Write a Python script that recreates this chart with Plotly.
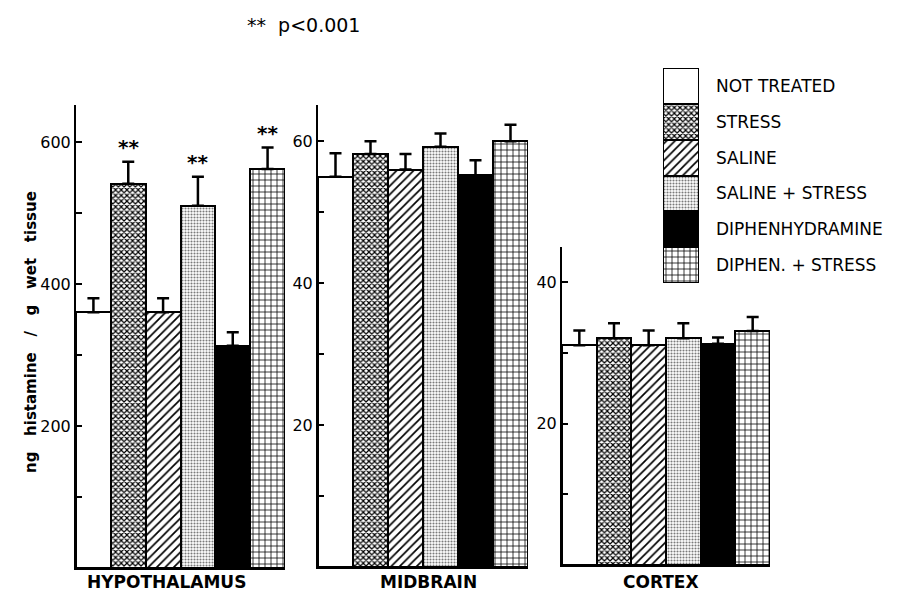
import plotly.graph_objects as go

# ---------------- data ----------------
treatments = ["NOT TREATED", "STRESS", "SALINE", "SALINE + STRESS",
              "DIPHENHYDRAMINE", "DIPHEN. + STRESS"]
regions = ["HYPOTHALAMUS", "MIDBRAIN", "CORTEX"]

hypothalamus_mean = [360, 541, 360, 510, 313, 562]
hypothalamus_err = [20, 31, 20, 41, 19, 30]
midbrain_mean = [55.0, 58.2, 56.0, 59.2, 55.2, 60.0]
midbrain_err = [3.3, 1.8, 2.2, 1.9, 2.1, 2.3]
cortex_mean = [31.1, 32.1, 31.1, 32.1, 31.3, 33.1]
cortex_err = [2.1, 2.1, 2.1, 2.1, 0.9, 2.0]

hypothalamus_signif = ["", "**", "", "**", "", "**"]

hypothalamus_ticks = [200, 400, 600]
midbrain_ticks = [20, 40, 60]
cortex_ticks = [20, 40]

y_title = "ng histamine / g wet tissue"
note = "** p<0.001"

# ---------------- styles ----------------
FONT = "DejaVu Sans"
pat_shape = ["", "x", "/", ".", "", "+"]
# with fillmode "replace" the pattern foreground comes from marker.color
pat_fg = ["white", "black", "black", "#7a7a7a", "black", "black"]
pat_bg = ["white", "#9a9a9a", "white", "#d4d4d4", "black", "white"]
pat_size = [8, 4, 6, 3, 8, 6]
pat_sol = [0.3, 0.5, 0.28, 0.4, 0.3, 0.24]


def marker():
    return dict(
        color=pat_fg,
        line=dict(color="black", width=2),
        pattern=dict(shape=pat_shape, fgcolor=pat_fg, bgcolor=pat_bg,
                     size=pat_size, solidity=pat_sol, fillmode="replace"),
    )


fig = go.Figure()

panels = [
    ("x", "y", hypothalamus_mean, hypothalamus_err),
    ("x2", "y2", midbrain_mean, midbrain_err),
    ("x3", "y3", cortex_mean, cortex_err),
]
for xa, ya, mean, err in panels:
    fig.add_trace(go.Bar(
        x=treatments, y=mean, xaxis=xa, yaxis=ya, marker=marker(),
        error_y=dict(type="data", array=err, arrayminus=[0] * len(err),
                     symmetric=False, color="black", thickness=2.5, width=6),
        showlegend=False, hoverinfo="x+y",
    ))

# legend drawn as a column of swatches
legend_swatch = [1] * len(treatments)
fig.add_trace(go.Bar(
    y=treatments, x=legend_swatch, orientation="h", xaxis="x4", yaxis="y4",
    marker=marker(), showlegend=False, hoverinfo="y",
))

W, H = 909, 593


def px_x(p):
    return p / W


def px_y(p):
    return 1 - p / H


axis_common = dict(showline=True, linecolor="black", linewidth=2,
                   showgrid=False, zeroline=False)

xcommon = dict(axis_common, type="category", categoryorder="array",
               categoryarray=treatments, range=[-0.5, 5.5],
               showticklabels=False, ticks="")


def ycommon(rng, ticks, minor_dtick):
    return dict(axis_common, range=rng, tickmode="array", tickvals=ticks,
                ticktext=[str(t) for t in ticks], ticks="inside", ticklen=6,
                tickwidth=2, tickcolor="black",
                tickfont=dict(family=FONT, size=16, color="black"),
                minor=dict(ticks="inside", ticklen=6, tickwidth=2,
                           tickcolor="black", dtick=minor_dtick,
                           tick0=minor_dtick / 2, showgrid=False))


fig.update_layout(
    width=W, height=H,
    margin=dict(l=0, r=0, t=0, b=0),
    paper_bgcolor="white", plot_bgcolor="rgba(0,0,0,0)",
    bargap=0, barmode="group",
    font=dict(family=FONT, color="black"),
    xaxis=dict(xcommon, domain=[px_x(76), px_x(285)], anchor="y"),
    yaxis=dict(ycommon([0, 652], hypothalamus_ticks, 200),
               domain=[px_y(568), px_y(105)], anchor="x"),
    xaxis2=dict(xcommon, domain=[px_x(318), px_x(528)], anchor="y2"),
    yaxis2=dict(ycommon([0, 65.1], midbrain_ticks, 20),
                domain=[px_y(567), px_y(105)], anchor="x2"),
    xaxis3=dict(xcommon, domain=[px_x(562), px_x(770)], anchor="y3"),
    yaxis3=dict(ycommon([0, 45], cortex_ticks, 20),
                domain=[px_y(565), px_y(247)], anchor="x3"),
    xaxis4=dict(domain=[px_x(663), px_x(699)], anchor="y4", range=[0, 1],
                visible=False, fixedrange=True),
    yaxis4=dict(domain=[px_y(283), px_y(68)], anchor="x4", type="category",
                categoryorder="array", categoryarray=treatments[::-1],
                side="right", showline=False, showgrid=False, zeroline=False,
                ticks="", ticklabelstandoff=16,
                tickfont=dict(family=FONT, size=17, color="black")),
)

annotations = []
# significance stars
for t, m, e, s in zip(treatments, hypothalamus_mean, hypothalamus_err, hypothalamus_signif):
    if s:
        annotations.append(dict(
            x=t, y=m + e, xref="x", yref="y", text=s, showarrow=False,
            yanchor="bottom", yshift=1,
            font=dict(family=FONT, size=20, color="black", weight="bold")))

# region labels
for name, cx in zip(regions, [166, 428, 661]):
    annotations.append(dict(
        x=px_x(cx), y=px_y(582), xref="paper", yref="paper", text=name,
        showarrow=False, xanchor="center", yanchor="middle",
        font=dict(family=FONT, size=17, color="black", weight="bold")))

# y-axis title
annotations.append(dict(
    x=px_x(31), y=px_y(332), xref="paper", yref="paper",
    text=y_title.replace(" ", "\u00a0\u00a0\u00a0"), textangle=-90,
    showarrow=False, xanchor="center", yanchor="middle",
    font=dict(family=FONT, size=15, color="black", weight="bold")))

# note
annotations.append(dict(
    x=px_x(303), y=px_y(25), xref="paper", yref="paper",
    text=note.replace("<", "&lt;").replace(" ", "\u00a0\u00a0"),
    showarrow=False, xanchor="center", yanchor="middle",
    font=dict(family=FONT, size=19, color="black")))

fig.update_layout(annotations=annotations)

fig.write_html("out.html", config={"displayModeBar": False},
               post_script="document.body.style.margin='0px';")
